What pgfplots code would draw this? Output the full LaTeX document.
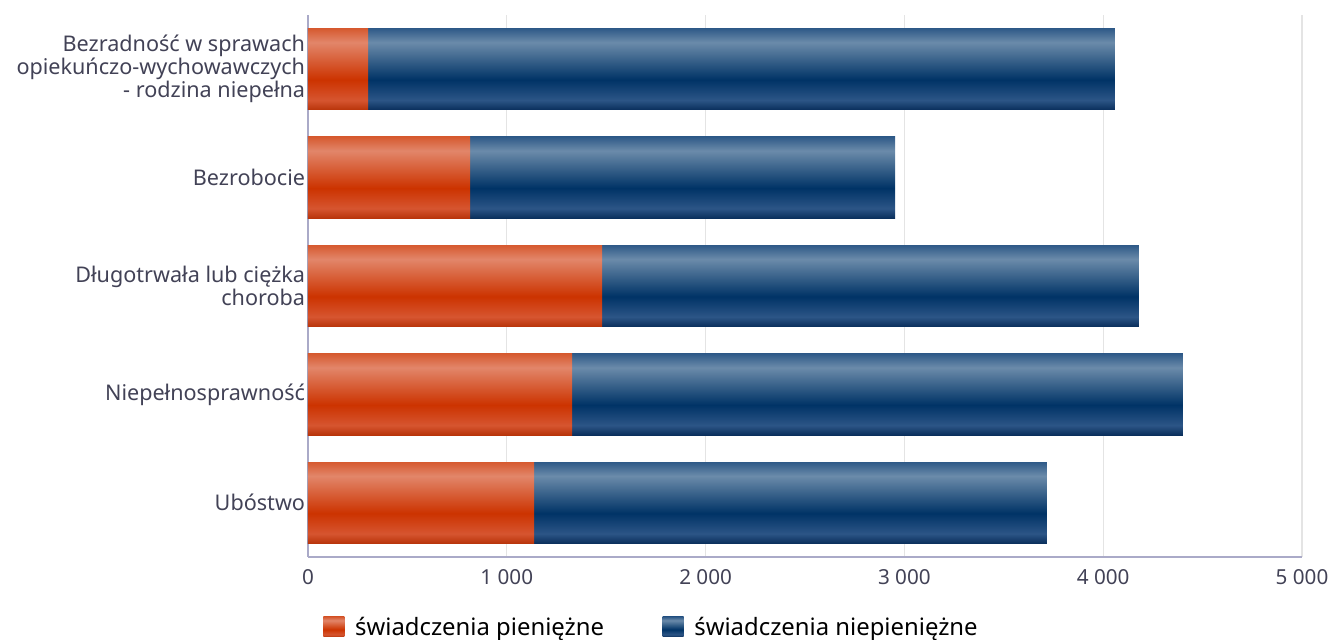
\documentclass[border=0pt]{standalone}
\usepackage{fontspec}
\setmainfont{Noto Sans}
\usepackage{pgfplots}
\pgfplotsset{compat=1.18}
\definecolor{textcol}{RGB}{66,66,86}
\definecolor{axcol}{RGB}{170,170,200}
\definecolor{gridcol}{RGB}{228,228,228}
\definecolor{rEdgeB}{RGB}{184,52,10}
\definecolor{rLowL}{RGB}{214,85,48}
\definecolor{rBase}{RGB}{204,51,0}
\definecolor{rLight}{RGB}{226,134,106}
\definecolor{rEdgeT}{RGB}{214,90,48}
\definecolor{bEdgeB}{RGB}{10,47,92}
\definecolor{bLowL}{RGB}{44,85,134}
\definecolor{bBase}{RGB}{0,51,102}
\definecolor{bLight}{RGB}{107,139,170}
\definecolor{bEdgeT}{RGB}{47,90,136}
\pgfdeclareverticalshading{redbar}{100bp}{%
  color(0bp)=(rEdgeB); color(25bp)=(rEdgeB); color(31bp)=(rLowL);
  color(43.5bp)=(rBase); color(66.5bp)=(rLight); color(75bp)=(rEdgeT);
  color(100bp)=(rEdgeT)}
\pgfdeclareverticalshading{bluebar}{100bp}{%
  color(0bp)=(bEdgeB); color(25bp)=(bEdgeB); color(31bp)=(bLowL);
  color(43.5bp)=(bBase); color(66.5bp)=(bLight); color(75bp)=(bEdgeT);
  color(100bp)=(bEdgeT)}
\begin{document}
\begin{tikzpicture}
\begin{axis}[name=ax,
  scale only axis, width=745.5pt, height=406.5pt,
  xbar, bar width=0.75, bar shift=0pt,
  xmin=0, xmax=5000, ymin=-0.5, ymax=4.5,
  xtick={0,1000,...,5000},
  ytick={0,1,2,3,4},
  yticklabels={Ubóstwo,Niepełnosprawność,{Długotrwała lub ciężka\\choroba},Bezrobocie,{Bezradność w sprawach\\opiekuńczo-wychowawczych\\- rodzina niepełna}},
  axis x line*=bottom, axis y line*=left,
  axis line style={axcol, line width=0.8pt, -},
  major tick length=0pt,
  xmajorgrids, grid style={gridcol, line width=0.8pt},
  /pgf/number format/assume math mode=true,
  /pgf/number format/1000 sep={\ },
  xticklabel style={font=\fontsize{15.5}{16.5}\selectfont, text=textcol, yshift=-6pt},
  yticklabel style={font=\fontsize{16.2}{17.3}\selectfont, text=textcol, align=right, inner sep=0pt, xshift=-2pt},
  legend style={draw=none, at={(0.346,-0.129)}, anchor=center,
    font=\fontsize{17.9}{18}\selectfont, text=black,
    /tikz/every odd column/.append style={column sep=6pt},
    /tikz/every even column/.append style={column sep=42pt}},
  legend columns=2,
  legend cell align=left,
  clip=false,
]
% non-monetary (blue) bars drawn to the total, monetary (red) part drawn over them
\addplot[draw=none, shading=bluebar, forget plot] coordinates {(3717,0)};
\addplot[draw=none, shading=bluebar, forget plot] coordinates {(4401,1)};
\addplot[draw=none, shading=bluebar, forget plot] coordinates {(4180,2)};
\addplot[draw=none, shading=bluebar, forget plot] coordinates {(2953,3)};
\addplot[draw=none, shading=bluebar, forget plot] coordinates {(4059,4)};
\addplot[draw=none, shading=redbar, forget plot] coordinates {(1137,0)};
\addplot[draw=none, shading=redbar, forget plot] coordinates {(1328,1)};
\addplot[draw=none, shading=redbar, forget plot] coordinates {(1479,2)};
\addplot[draw=none, shading=redbar, forget plot] coordinates {(815,3)};
\addplot[draw=none, shading=redbar, forget plot] coordinates {(302,4)};
% legend entries
\addlegendimage{legend image code/.code={\path[draw=none, shading=redbar] (0pt,-7.5pt) rectangle (15.75pt,7.5pt);}}
\addlegendentry{świadczenia pieniężne}
\addlegendimage{legend image code/.code={\path[draw=none, shading=bluebar] (0pt,-7.5pt) rectangle (15.75pt,7.5pt);}}
\addlegendentry{świadczenia niepieniężne}
\end{axis}
\pgfresetboundingbox
\path[use as bounding box] ([xshift=-231pt,yshift=-62.25pt]ax.south west) rectangle ([xshift=21pt,yshift=11.25pt]ax.north east);
\end{tikzpicture}
\end{document}
